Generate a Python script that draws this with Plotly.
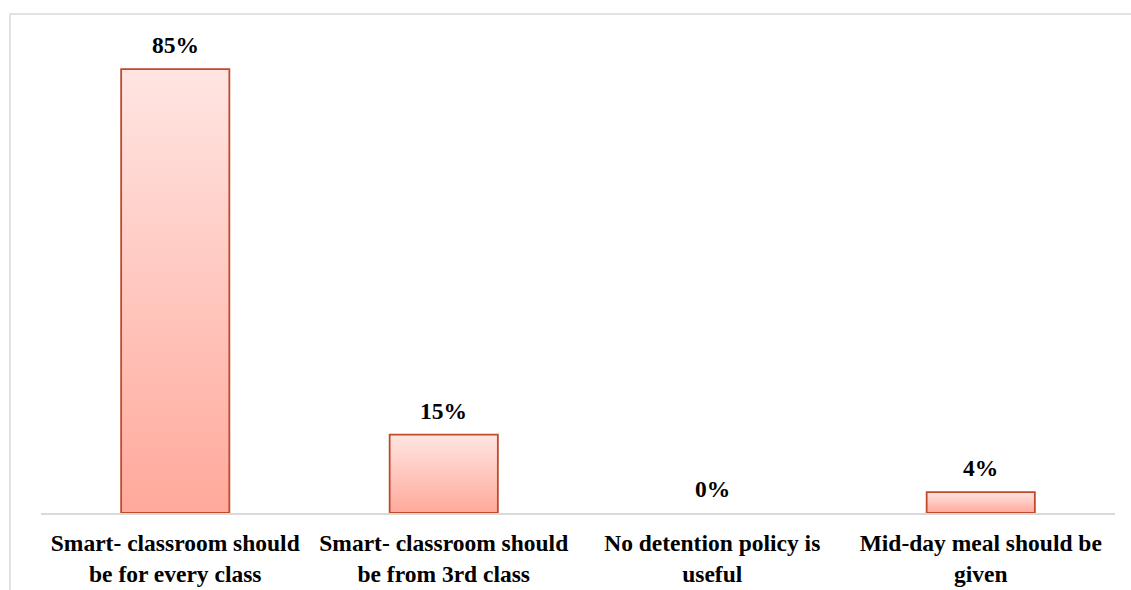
import plotly.graph_objects as go

categories = [
    "Smart- classroom should<br>be for every class",
    "Smart- classroom should<br>be from 3rd class",
    "No detention policy is<br>useful",
    "Mid-day meal should be<br>given",
]
values = [85, 15, 0, 4]
labels = ["85%", "15%", "0%", "4%"]

BAR_W = 0.403
FONT = "Liberation Serif"
FSIZE = 23.5
EDGE = "#BF4B2C"

fig = go.Figure()
for i, v in enumerate(values):
    if v <= 0:
        continue
    x0, x1 = i - BAR_W / 2, i + BAR_W / 2
    fig.add_trace(go.Scatter(
        x=[x0, x1, x1, x0, x0], y=[0, 0, v, v, 0],
        mode="lines", fill="toself",
        line=dict(color=EDGE, width=1.8),
        fillgradient=dict(type="vertical",
                          colorscale=[[0, "#FFA99B"], [1, "#FFE5E2"]]),
        showlegend=False, hoverinfo="skip",
    ))

for i, (v, t) in enumerate(zip(values, labels)):
    fig.add_annotation(x=i, y=v, text="<b>%s</b>" % t, showarrow=False,
                       yanchor="bottom", yshift=9,
                       font=dict(family=FONT, size=FSIZE, color="black"))

L, R, T, B = 41, 16, 20, 77
W, H = 1131, 590
pw, ph = W - L - R, H - T - B

def px(x):
    return (x - L) / pw

def py(y):
    return (H - B - y) / ph

fig.add_shape(type="rect", xref="paper", yref="paper",
              x0=px(10), x1=px(1160), y0=py(620), y1=py(14),
              line=dict(color="#D9D9D9", width=1.5), layer="below")

fig.update_layout(
    width=W, height=H,
    margin=dict(l=L, r=R, t=T, b=B, autoexpand=False),
    paper_bgcolor="white", plot_bgcolor="white",
    xaxis=dict(range=[-0.5, 3.5], tickvals=list(range(len(categories))),
               ticktext=["<b>%s</b>" % c for c in categories],
               showgrid=False, zeroline=False, showline=True,
               linecolor="#D9D9D9", linewidth=1.5, ticks="",
               automargin=False, ticklabelstandoff=8,
               tickfont=dict(family=FONT, size=FSIZE, color="black")),
    yaxis=dict(range=[0, 94.4], visible=False, showgrid=False, zeroline=False),
)

fig.write_html("out.html")
